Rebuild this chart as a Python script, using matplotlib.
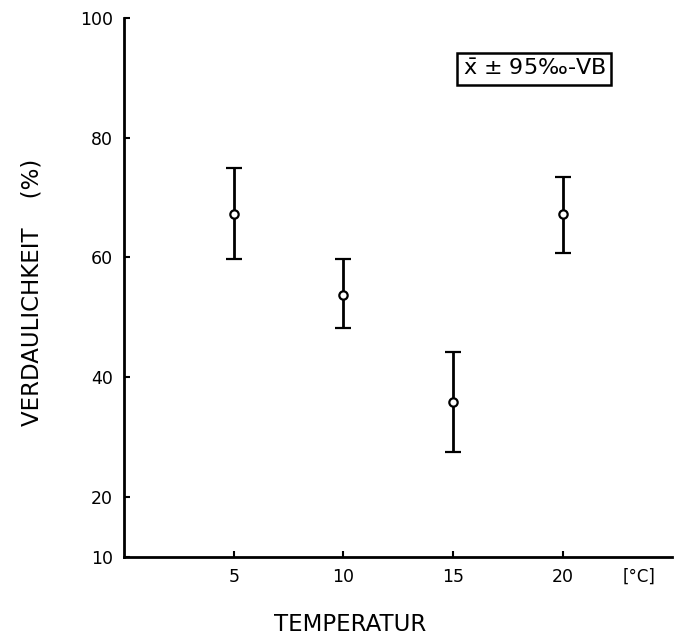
import numpy as np
import matplotlib.pyplot as plt
from matplotlib import transforms

# data
temperatur = [5, 10, 15, 20]
mittelwert = [67.2, 53.7, 35.8, 67.2]
vb_oben = [75.0, 59.8, 44.2, 73.5]
vb_unten = [59.8, 48.2, 27.5, 60.8]

y_ticks = [10, 20, 40, 60, 80, 100]
x_ticks = [5, 10, 15, 20]

plt.rcParams['font.family'] = ['DejaVu Sans']

fig = plt.figure(figsize=(6.86, 6.43), dpi=100)
ax = fig.add_axes([0.181, 0.134, 0.799, 0.838])

mw = np.array(mittelwert)
err = [mw - np.array(vb_unten), np.array(vb_oben) - mw]
ax.errorbar(temperatur, mittelwert, yerr=err, fmt='o', color='black',
            markerfacecolor='white', markeredgecolor='black', markersize=6,
            markeredgewidth=1.6, elinewidth=2.0, capsize=5.5, capthick=2.0)

ax.set_xlim(0, 25)
ax.set_ylim(10, 100)
ax.set_xticks(x_ticks)
ax.set_yticks(y_ticks)
ax.tick_params(direction='in', length=4, width=1.5, labelsize=12.5, pad=8)

for s in ['top', 'right']:
    ax.spines[s].set_visible(False)
for s in ['left', 'bottom']:
    ax.spines[s].set_linewidth(2.0)

trans = transforms.blended_transform_factory(ax.transData, ax.transAxes)
ax.text(23.5, -0.02, '[°C]', transform=trans, ha='center', va='top', fontsize=12)

# axis labels sit a bit left of centre in the original
ax.set_xlabel('TEMPERATUR', fontsize=16.5)
ax.xaxis.set_label_coords(0.412, -0.104)
ax.set_ylabel('VERDAULICHKEIT    (%)', fontsize=16.5)
ax.yaxis.set_label_coords(-0.148, 0.49)

ax.text(0.618, 0.905, r'$\bar{\mathrm{x}}$ ± 95‰-VB', transform=ax.transAxes,
        fontsize=16, ha='left', va='center',
        bbox=dict(boxstyle='square,pad=0.25', facecolor='white',
                  edgecolor='black', linewidth=1.8))

fig.savefig('out.png', dpi=100)
